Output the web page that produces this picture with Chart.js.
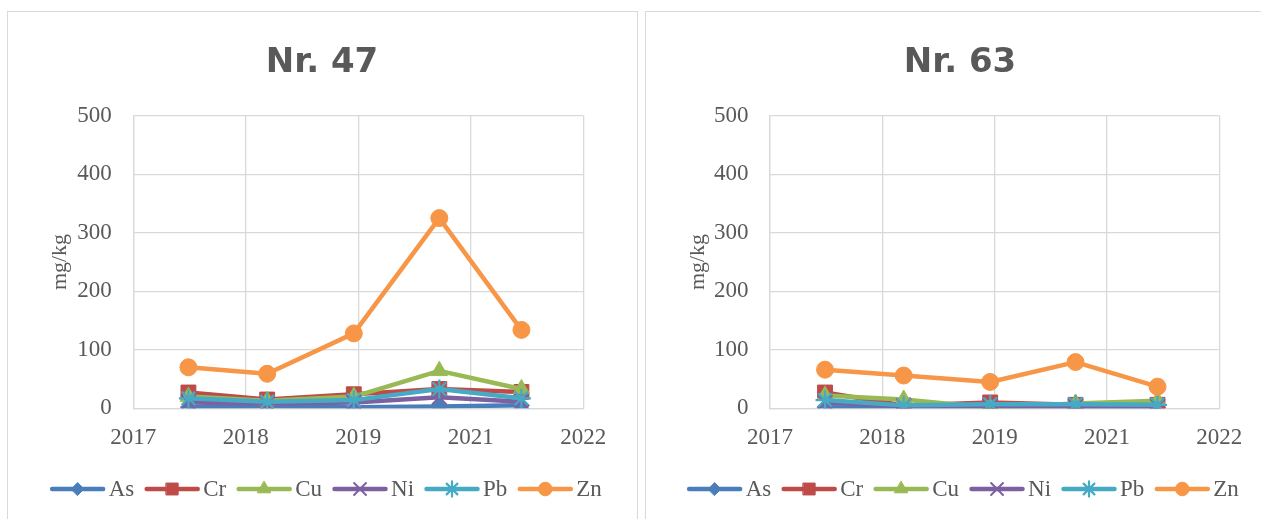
<!DOCTYPE html>
<html><head><meta charset="utf-8">
<script src="https://cdn.jsdelivr.net/npm/chart.js@4.4.1/dist/chart.umd.min.js"></script>
<style>
html,body{margin:0;padding:0;background:#fff;overflow:hidden;width:1261px;height:519px;position:relative}
.panel{position:absolute;top:11px;width:631px;height:600px;border:1px solid #D9D9D9;box-sizing:border-box}
canvas{position:absolute;top:0}
</style></head><body>
<div class="panel" style="left:7px"></div>
<div class="panel" style="left:645px"></div>
<canvas id="c47" width="630" height="519" style="left:7px"></canvas>
<canvas id="c63" width="630" height="519" style="left:645px"></canvas>
<script>
// ---- data ----
const yearLabels = ['2017', '2018', '2019', '2021', '2022'];
const sampleX = [0.49, 1.19, 1.96, 2.72, 3.45];
const metals = ['As', 'Cr', 'Cu', 'Ni', 'Pb', 'Zn'];
const nr47As = [2, 3, 2, 3, 5];
const nr47Cr = [27, 15, 24, 33, 28];
const nr47Cu = [20, 13, 20, 64, 33];
const nr47Ni = [10, 8, 10, 19, 11];
const nr47Pb = [17, 11, 14, 33, 17];
const nr47Zn = [70, 59, 128, 325, 134];
const nr63As = [2, 1, 1, 1, 1];
const nr63Cr = [27, 5, 10, 6, 6];
const nr63Cu = [22, 15, 1, 8, 13];
const nr63Ni = [10, 4, 4, 3, 3];
const nr63Pb = [14, 5, 7, 7, 6];
const nr63Zn = [66, 56, 45, 79, 37];

// ---- styles ----
const colors = {As:'#4A7EBB', Cr:'#BE4B48', Cu:'#98B954', Ni:'#7D60A0', Pb:'#46AAC5', Zn:'#F79646'};
const markers = {
  As:{style:'rectRot', r:8, bw:1},
  Cr:{style:'rect', r:10.5, bw:1},
  Cu:{style:'triangle', r:9.5, bw:1},
  Ni:{style:'crossRot', r:10.5, bw:2},
  Pb:{style:'star', r:9.5, bw:2.2},
  Zn:{style:'circle', r:8.5, bw:1}
};
const GREY = '#595959';
const GRID = '#D9D9D9';

function drawMarker(ctx, style, r, bw, x, y) {
  if (Chart.helpers && Chart.helpers.drawPoint) {
    Chart.helpers.drawPoint(ctx, {pointStyle: style, radius: r, borderWidth: bw, rotation: 0}, x, y);
  }
}

const excelLegend = {
  id: 'excelLegend',
  afterDraw(chart, args, opts) {
    const ctx = chart.ctx;
    ctx.save();
    ctx.font = opts.font;
    const items = chart.data.datasets.map(ds => ({ds, w: ctx.measureText(ds.label).width}));
    const total = items.reduce((a, it) => a + opts.sampleWidth + opts.gapIn + it.w, 0) + opts.gapOut * (items.length - 1);
    let x = opts.centerX - total / 2;
    const y = opts.y;
    items.forEach(({ds, w}) => {
      ctx.strokeStyle = ds.borderColor;
      ctx.lineWidth = ds.borderWidth;
      ctx.lineCap = 'round';
      ctx.beginPath();
      ctx.moveTo(x + 2, y);
      ctx.lineTo(x + opts.sampleWidth - 2, y);
      ctx.stroke();
      ctx.fillStyle = ds.borderColor;
      ctx.strokeStyle = ds.borderColor;
      ctx.lineWidth = ds.pointBorderWidth;
      drawMarker(ctx, ds.pointStyle, ds.pointRadius * 0.8, ds.pointBorderWidth, x + opts.sampleWidth / 2, y);
      ctx.fillStyle = GREY;
      ctx.textBaseline = 'middle';
      ctx.textAlign = 'left';
      ctx.fillText(ds.label, x + opts.sampleWidth + opts.gapIn, y + 1);
      x += opts.sampleWidth + opts.gapIn + w + opts.gapOut;
    });
    ctx.restore();
  }
};

function buildDatasets(seriesList) {
  return metals.map((m, i) => ({
    label: m,
    data: sampleX.map((x, j) => ({x, y: seriesList[i][j]})),
    borderColor: colors[m],
    backgroundColor: colors[m],
    borderWidth: 4.5,
    borderJoinStyle: 'round',
    borderCapStyle: 'round',
    pointStyle: markers[m].style,
    pointRadius: markers[m].r,
    pointBorderWidth: markers[m].bw,
    pointBackgroundColor: colors[m],
    pointBorderColor: colors[m],
    order: metals.length - i,
    tension: 0
  }));
}

function makeChart(id, titleText, seriesList, yW, rW, legendX) {
  const tickFont = {family: '"Liberation Serif", "Times New Roman", serif', size: 23};
  return new Chart(document.getElementById(id), {
    type: 'line',
    data: {datasets: buildDatasets(seriesList)},
    plugins: [excelLegend],
    options: {
      responsive: false,
      animation: false,
      events: [],
      layout: {autoPadding: false, padding: {left: 0, right: 0, top: 0, bottom: 65.7}},
      plugins: {
        legend: {display: false},
        tooltip: {enabled: false},
        title: {
          display: true, text: titleText, color: GREY,
          font: {family: '"DejaVu Sans", sans-serif', size: 34, weight: 'bold'},
          padding: {top: 42.6, bottom: 32.3}
        },
        excelLegend: {font: '23px "Liberation Serif", serif', sampleWidth: 55, gapIn: 3.5, gapOut: 10.5, centerX: legendX, y: 489}
      },
      scales: {
        x: {
          type: 'linear', min: 0, max: 4, position: 'bottom',
          ticks: {stepSize: 1, autoSkip: false, maxRotation: 0, padding: 15.5, color: GREY, font: tickFont,
                  callback: v => (yearLabels[v] !== undefined ? yearLabels[v] : '')},
          grid: {color: GRID, lineWidth: 1.3, drawTicks: false},
          border: {color: GRID, width: 1.3},
          afterFit: s => { s.height = 45; }
        },
        y: {
          min: 0, max: 500, position: 'left',
          ticks: {stepSize: 100, padding: 21.5, color: GREY, font: tickFont},
          grid: {color: GRID, lineWidth: 1.3, drawTicks: false},
          border: {color: GRID, width: 1.3},
          title: {display: true, text: 'mg/kg', color: GREY,
                  font: {family: '"Liberation Serif", serif', size: 22}, padding: {top: 39.8, bottom: 0}},
          afterFit: s => { s.width = yW; }
        },
        y2: {
          axis: 'y', position: 'right', display: true,
          grid: {display: false}, border: {display: false}, ticks: {display: false},
          afterFit: s => { s.width = rW; }
        }
      }
    }
  });
}

makeChart('c47', 'Nr. 47', [nr47As, nr47Cr, nr47Cu, nr47Ni, nr47Pb, nr47Zn], 126.3, 53.7, 319);
makeChart('c63', 'Nr. 63', [nr63As, nr63Cr, nr63Cu, nr63Ni, nr63Pb, nr63Zn], 125, 55.7, 318);
</script>
</body></html>
